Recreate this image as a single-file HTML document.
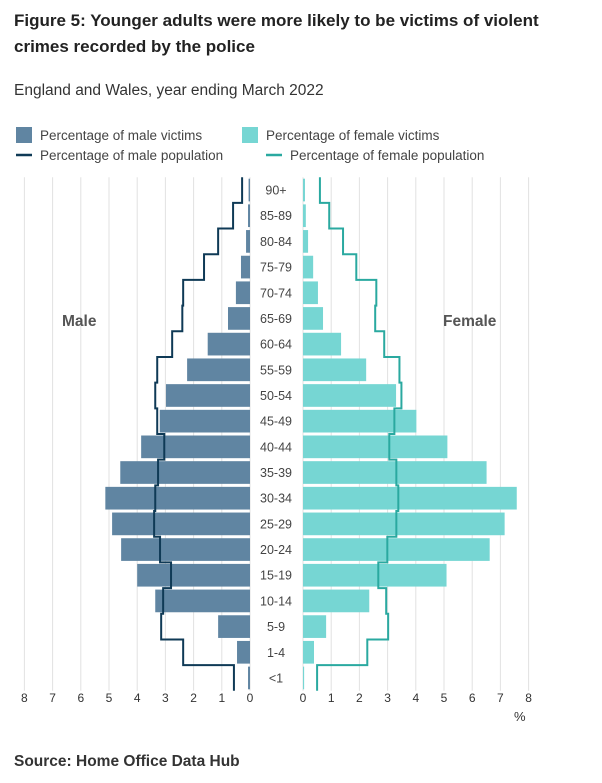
<!DOCTYPE html>
<html><head><meta charset="utf-8"><style>
body{margin:0;background:#fff;font-family:"Liberation Sans",sans-serif;color:#222;}
#wrap{position:relative;width:602px;height:783px;overflow:hidden;}
.t{position:absolute;margin:0;}
</style></head><body>
<div id="wrap">
<div class="t" style="left:14px;top:8px;font-size:17px;font-weight:bold;line-height:26px;width:575px;color:#222">Figure 5: Younger adults were more likely to be victims of violent crimes recorded by the police</div>
<div class="t" style="left:14px;top:82px;font-size:15.5px;color:#333">England and Wales, year ending March 2022</div>
<svg id="svg" width="602" height="783" style="position:absolute;left:0;top:0"></svg>
<div class="t" style="left:14px;top:753px;font-size:15.5px;font-weight:bold;color:#333">Source: Home Office Data Hub</div>
</div>
<script>
const ages=["90+","85-89","80-84","75-79","70-74","65-69","60-64","55-59","50-54","45-49","40-44","35-39","30-34","25-29","20-24","15-19","10-14","5-9","1-4","<1"];
const maleVictims=[0.05,0.07,0.14,0.32,0.5,0.78,1.5,2.23,2.98,3.2,3.86,4.6,5.13,4.89,4.57,4.0,3.36,1.13,0.46,0.07];
const femaleVictims=[0.07,0.1,0.18,0.36,0.53,0.71,1.35,2.24,3.3,4.02,5.12,6.51,7.58,7.15,6.62,5.09,2.35,0.82,0.39,0.04];
const malePop=[0.28,0.6,1.13,1.63,2.37,2.4,2.76,3.29,3.36,3.29,3.04,3.26,3.36,3.4,3.19,2.8,3.08,3.15,2.37,0.57];
const femalePop=[0.6,0.93,1.42,1.89,2.6,2.56,2.88,3.42,3.49,3.24,3.06,3.31,3.38,3.31,2.99,2.67,2.95,3.02,2.28,0.5];
const ticks=[8,7,6,5,4,3,2,1,0];
</script>
<script>
const svg=document.getElementById('svg');const NS='http://www.w3.org/2000/svg';
function mk(t,a,p){const e=document.createElementNS(NS,t);for(const k in a)e.setAttribute(k,a[k]);(p||svg).appendChild(e);return e;}
const k=28.2,mx0=250,fx0=303,step=25.68,top0=177.2;
const mX=v=>mx0-v*k, fX=v=>fx0+v*k, rowTop=i=>top0+i*step;
const n=ages.length, bottom=rowTop(n);
ticks.forEach(t=>{
 let g=mk('line',{x1:mX(t),x2:mX(t),y1:top0,y2:bottom,stroke:'#e2e2e2','stroke-width':1});
 
 g=mk('line',{x1:fX(t),x2:fX(t),y1:top0,y2:bottom,stroke:'#e2e2e2','stroke-width':1});
 
 let tx=mk('text',{x:mX(t),y:702,'text-anchor':'middle','font-size':12,fill:'#333'});tx.textContent=t;
 
 tx=mk('text',{x:fX(t),y:702,'text-anchor':'middle','font-size':12,fill:'#333'});tx.textContent=t;
 
});
ages.forEach((a,i)=>{
 const y=rowTop(i)+1.5,h=step-3;
 let r=mk('rect',{x:mX(maleVictims[i]),y:y,width:maleVictims[i]*k,height:h,fill:'#6085a2'});
 
 r=mk('rect',{x:fx0,y:y,width:femaleVictims[i]*k,height:h,fill:'#76d6d3'});
 
 const l=mk('text',{x:276,y:rowTop(i)+step/2+4.5,'text-anchor':'middle','font-size':12.5,fill:'#444'});l.textContent=a;
 
});
function stepPath(arr,fx){let d='';arr.forEach((v,i)=>{const x=fx(v);d+=(i?'L':'M')+x+','+rowTop(i)+'L'+x+','+rowTop(i+1);});return d;}
let p=mk('path',{d:stepPath(malePop,mX),fill:'none',stroke:'#0f3a56','stroke-width':2});

p=mk('path',{d:stepPath(femalePop,fX),fill:'none',stroke:'#2aa9a0','stroke-width':2});

let t=mk('text',{x:62,y:326,'font-size':15.5,'font-weight':'bold',fill:'#555'});t.textContent='Male';

t=mk('text',{x:443,y:326,'font-size':15.5,'font-weight':'bold',fill:'#555'});t.textContent='Female';

t=mk('text',{x:514,y:721,'font-size':13,fill:'#333'});t.textContent='%';

const leg=[['box','#6085a2',16,127,'Percentage of male victims',40,'legend-male-victims'],
['box','#76d6d3',242,127,'Percentage of female victims',266,'legend-female-victims'],
['line','#0f3a56',16,155,'Percentage of male population',40,'legend-male-population'],
['line','#2aa9a0',266,155,'Percentage of female population',290,'legend-female-population']];
leg.forEach(L=>{
 const g=mk('g',{});
 if(L[0]==='box')mk('rect',{x:L[2],y:L[3],width:16,height:16,fill:L[1]},g);
 else mk('line',{x1:L[2],x2:L[2]+16,y1:L[3],y2:L[3],stroke:L[1],'stroke-width':2.5},g);
 const tx=mk('text',{x:L[5],y:L[0]==='box'?L[3]+13:L[3]+5,'font-size':13.5,fill:'#444'},g);tx.textContent=L[4];
});
</script>
</body></html>
